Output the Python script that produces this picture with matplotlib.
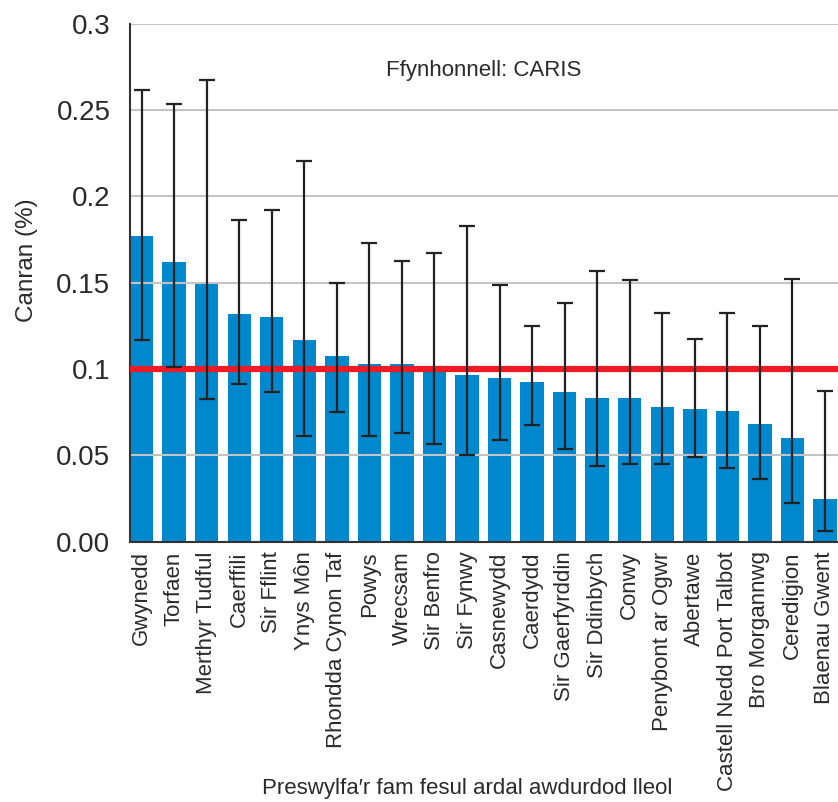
import matplotlib.pyplot as plt
import numpy as np

plt.rcParams['font.family'] = ['Liberation Sans', 'DejaVu Sans']

areas = ["Gwynedd", "Torfaen", "Merthyr Tudful", "Caerffili", "Sir Fflint",
         "Ynys Môn", "Rhondda Cynon Taf", "Powys", "Wrecsam", "Sir Benfro",
         "Sir Fynwy", "Casnewydd", "Caerdydd", "Sir Gaerfyrddin", "Sir Ddinbych",
         "Conwy", "Penybont ar Ogwr", "Abertawe", "Castell Nedd Port Talbot",
         "Bro Morgannwg", "Ceredigion", "Blaenau Gwent"]
rates = [0.177, 0.162, 0.149, 0.132, 0.130, 0.117, 0.1075, 0.103, 0.103, 0.100,
         0.0965, 0.095, 0.0925, 0.0867, 0.083, 0.083, 0.078, 0.0768, 0.0757,
         0.068, 0.060, 0.0247]
upper = [0.2615, 0.2535, 0.2675, 0.1863, 0.192, 0.2205, 0.1498, 0.173, 0.1626,
         0.167, 0.183, 0.1486, 0.125, 0.138, 0.157, 0.1515, 0.1324, 0.1172,
         0.1324, 0.125, 0.152, 0.0871]
lower = [0.117, 0.1013, 0.0826, 0.0913, 0.0869, 0.061, 0.0751, 0.061, 0.0631,
         0.0567, 0.050, 0.0589, 0.0676, 0.0537, 0.0438, 0.0448, 0.0448, 0.0492,
         0.0426, 0.0361, 0.0222, 0.006]
wales_rate = 0.1
yticks = [0, 0.05, 0.1, 0.15, 0.2, 0.25, 0.3]
ytick_labels = ["0.00", "0.05", "0.1", "0.15", "0.2", "0.25", "0.3"]

x = np.arange(len(areas))
rates = np.array(rates)
err = [rates - np.array(lower), np.array(upper) - rates]

fig = plt.figure(figsize=(8.38, 8.02), dpi=100)
ax = fig.add_axes([0.155, 0.3247, 0.845, 0.6457])

ax.bar(x, rates, width=0.72, color="#0088cf", zorder=1)
for y in yticks[1:]:
    ax.axhline(y, color="#c4c4c4", linewidth=1.5, zorder=2)
ax.axhline(wales_rate, color="#ed1c24", linewidth=4.5, zorder=3)
ax.errorbar(x, rates, yerr=err, fmt="none", ecolor="#222222", elinewidth=1.6,
            capsize=6, capthick=1.6, zorder=4)

ax.set_xlim(-0.36, 21.4)
ax.set_ylim(0, 0.3)
ax.set_yticks(yticks)
ax.set_yticklabels(ytick_labels, fontsize=20, color="#2a2a2a")
ax.set_xticks(x)
ax.set_xticklabels(areas, rotation=90, fontsize=16, color="#2a2a2a")
ax.tick_params(axis="y", length=0, pad=14)
ax.tick_params(axis="x", length=0, pad=7)

for side in ["top", "right"]:
    ax.spines[side].set_visible(False)
ax.spines["left"].set_color("#333333")
ax.spines["bottom"].set_color("#333333")
ax.spines["left"].set_linewidth(1.5)
ax.spines["bottom"].set_linewidth(1.5)

ax.set_ylabel("Canran (%)", fontsize=17.5, color="#2a2a2a")
ax.yaxis.set_label_coords(-0.13, 0.544)
fig.text(0.557, 0.01, "Preswylfa\u2032r fam fesul ardal awdurdod lleol",
         ha="center", fontsize=16, color="#2a2a2a")
ax.text(0.5, 0.9, "Ffynhonnell: CARIS", transform=ax.transAxes,
        ha="center", fontsize=16, color="#2a2a2a")

fig.savefig("out.png", dpi=100)
